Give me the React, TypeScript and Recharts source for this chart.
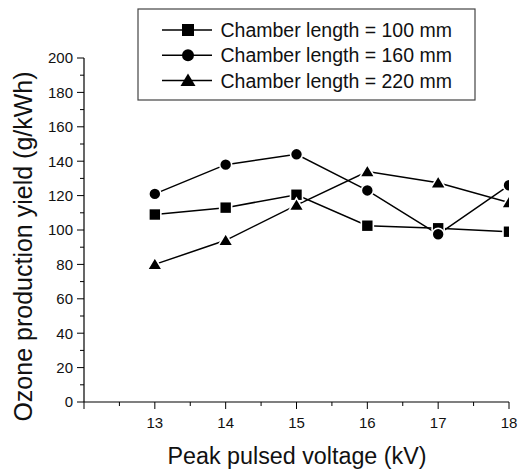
import { Line, LineChart, XAxis, YAxis } from "recharts";

// peak pulsed voltage (kV)
const voltages = [13, 14, 15, 16, 17, 18];
// ozone production yield (g/kWh) per chamber length
const yield100 = [109, 113, 120.5, 102.5, 101, 99];
const yield160 = [121, 138, 144, 123, 97.5, 126];
const yield220 = [80, 94, 114.5, 134, 127.5, 116];

const xTicks = [12, 12.5, 13, 13.5, 14, 14.5, 15, 15.5, 16, 16.5, 17, 17.5, 18];
const yTicks = [0, 10, 20, 30, 40, 50, 60, 70, 80, 90, 100, 110, 120, 130, 140, 150, 160, 170, 180, 190, 200];

const FONT = "'Liberation Sans', Arial, sans-serif";

type Shape = "square" | "circle" | "triangle";

const series: { key: string; name: string; shape: Shape }[] = [
  { key: "l100", name: "Chamber length = 100 mm", shape: "square" },
  { key: "l160", name: "Chamber length = 160 mm", shape: "circle" },
  { key: "l220", name: "Chamber length = 220 mm", shape: "triangle" },
];

const data = voltages.map((v, i) => ({
  v,
  l100: yield100[i],
  l160: yield160[i],
  l220: yield220[i],
}));

const Marker = ({ cx, cy, shape, ring = true }: { cx: number; cy: number; shape: Shape; ring?: boolean }) => {
  const stroke = ring ? "#fff" : "none";
  if (shape === "square") {
    return <rect x={cx - 6} y={cy - 6} width={12} height={12} fill="#000" stroke={stroke} strokeWidth={1.6} />;
  }
  if (shape === "circle") {
    return <circle cx={cx} cy={cy} r={6} fill="#000" stroke={stroke} strokeWidth={1.6} />;
  }
  return (
    <polygon
      points={`${cx},${cy - 7} ${cx + 7.5},${cy + 5.5} ${cx - 7.5},${cy + 5.5}`}
      fill="#000"
      stroke={stroke}
      strokeWidth={1.6}
    />
  );
};

const dotFor = (shape: Shape) => (props: any) => {
  const { cx, cy, index } = props;
  return <Marker key={`${shape}-${index}`} cx={cx} cy={cy} shape={shape} />;
};

const XTick = ({ x, y, payload }: any) => {
  const v = payload.value as number;
  const major = Number.isInteger(v);
  return (
    <g>
      <line x1={x} x2={x} y1={y} y2={y + (major ? 7 : 4)} stroke="#000" strokeWidth={1} />
      {major && v >= 13 && (
        <text x={x} y={y + 25.5} textAnchor="middle" fontSize={15} fontFamily={FONT} fill="#111">
          {v}
        </text>
      )}
    </g>
  );
};

const YTick = ({ x, y, payload }: any) => {
  const v = payload.value as number;
  const major = v % 20 === 0;
  return (
    <g>
      <line x1={x - (major ? 7 : 4)} x2={x} y1={y} y2={y} stroke="#000" strokeWidth={1} />
      {major && (
        <text x={x - 11} y={y + 5.3} textAnchor="end" fontSize={15} fontFamily={FONT} fill="#111">
          {v}
        </text>
      )}
    </g>
  );
};

const YLabel = () => (
  <text
    transform="translate(32,246.5) rotate(-90)"
    textAnchor="middle"
    fontSize={25}
    fontFamily={FONT}
    fill="#111"
  >
    Ozone production yield (g/kWh)
  </text>
);

const XLabel = () => (
  <text x={297} y={464} textAnchor="middle" fontSize={23.3} fontFamily={FONT} fill="#111">
    Peak pulsed voltage (kV)
  </text>
);

const LegendBox = () => (
  <svg width={340} height={93} style={{ position: "absolute", left: 137, top: 8 }}>
    <rect x={1} y={1} width={337} height={91} fill="#fff" stroke="#444" strokeWidth={1.2} />
    {series.map((s, i) => {
      const cy = 22 + i * 25.3;
      return (
        <g key={s.key}>
          <line x1={25} x2={75} y1={cy} y2={cy} stroke="#000" strokeWidth={1.5} />
          <Marker cx={51} cy={cy} shape={s.shape} ring={false} />
          <text x={83.5} y={cy + 7} fontSize={19.5} fontFamily={FONT} fill="#111">
            {s.name}
          </text>
        </g>
      );
    })}
  </svg>
);

export default function App() {
  return (
    <div style={{ position: "absolute", left: 0, top: 0, width: 525, height: 471, background: "#fff" }}>
      <LineChart width={525} height={471} data={data} margin={{ top: 58, right: 16, left: 0, bottom: 0 }}>
        <XAxis
          dataKey="v"
          type="number"
          domain={[12, 18]}
          ticks={xTicks}
          interval={0}
          allowDataOverflow
          height={69}
          tickSize={0}
          tickMargin={0}
          tickLine={false}
          axisLine={{ stroke: "#000", strokeWidth: 1.2 }}
          tick={<XTick />}
          label={{ content: () => <XLabel /> }}
        />
        <YAxis
          type="number"
          domain={[0, 200]}
          ticks={yTicks}
          interval={0}
          width={84}
          tickSize={0}
          tickMargin={0}
          tickLine={false}
          axisLine={{ stroke: "#000", strokeWidth: 1.2 }}
          tick={<YTick />}
          label={{ content: () => <YLabel /> }}
        />
        {series.map((s) => (
          <Line
            key={s.key}
            dataKey={s.key}
            name={s.name}
            type="linear"
            stroke="#000"
            strokeWidth={1.5}
            dot={dotFor(s.shape)}
            activeDot={false}
            isAnimationActive={false}
          />
        ))}
      </LineChart>
      <LegendBox />
    </div>
  );
}
